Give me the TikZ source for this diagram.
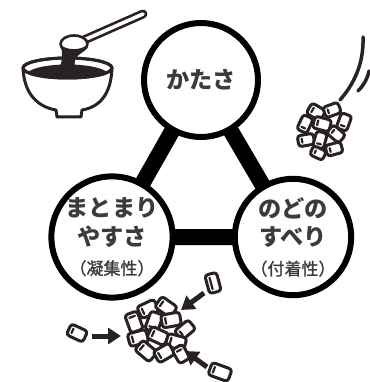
\documentclass[tikz,border=0pt]{standalone}
\usepackage{fontspec}
\newfontfamily\jp{Noto Sans CJK JP}
\newfontfamily\jpmid[FakeBold=1.2]{Noto Sans CJK JP}
\usetikzlibrary{arrows.meta,backgrounds}
\definecolor{ring}{HTML}{000000}
\definecolor{txt}{HTML}{3E3A39}
\definecolor{art}{HTML}{2A2222}
\tikzset{
  bubble/.style={circle, draw=ring, line width=6pt, fill=white, minimum size=114pt,
                 inner sep=0pt, align=center, text=txt,
                 font=\jp\bfseries\fontsize{23.2}{28.5}\selectfont},
  bar/.style={draw=ring, line width=16pt},
  artline/.style={draw=art, line width=3pt, line cap=round, line join=round},
  pc/.style={draw=art, fill=white, line width=3pt, rounded corners=3pt, line join=round},
  pcin/.style={draw=art, line width=2.2pt, line cap=round},
  push/.style={draw=art, line width=5pt, -{Triangle[length=13pt,width=16pt]}},
}
\newcommand\paren{\jpmid\mdseries\fontsize{17}{20}\selectfont}
% one small cube-like bit: x, y, angle, width, height
\newcommand\bit[5]{%
  \begin{scope}[shift={(#1,#2)},rotate=#3]
    \draw[pc] (-#4/2,-#5/2) rectangle (#4/2,#5/2);
    \draw[pcin] (-#4/2+4,-#5/2+3.5) -- (-#4/2+4,#5/2-3.5);
  \end{scope}}
\begin{document}
\begin{tikzpicture}[x=1pt,y=-1pt]
\useasboundingbox (0,0) rectangle (369,382);

% the three properties
\node[bubble] (hard) at (201,80) {かたさ};
\node[bubble] (coh) at (112,237) {まとまり\\やすさ\\[1pt]{\paren （凝集性）}};
\node[bubble] (adh) at (293,237) {のどの\\すべり\\[1pt]{\paren （付着性）}};
\begin{scope}[on background layer]
  \draw[bar] (hard.center) -- (coh.center) -- (adh.center) -- cycle;
\end{scope}

% bowl with a spoon of thick liquid
\draw[artline, fill=white] (23,68) .. controls (24,94) and (38,107) .. (56,110)
  -- (57,117) -- (81,117) -- (82,110) .. controls (100,107) and (111,94) .. (112,68);
\draw[artline, fill=white] (67.5,68) ellipse [x radius=44.5, y radius=10];
\begin{scope}
  \clip (67.5,68) ellipse [x radius=44.5, y radius=10];
  \fill[art] (67.5,75) ellipse [x radius=41, y radius=10.5];
\end{scope}
\draw[artline] (67.5,68) ellipse [x radius=44.5, y radius=10];
\draw[art, line width=9pt, line cap=round] (84,40) -- (143,14);
\draw[white, line width=3.6pt, line cap=round] (84,40) -- (143,14);
\draw[artline, fill=white, line width=2.6pt] (74,44) ellipse [x radius=13.5, y radius=8.5];
\fill[art] (61,45) .. controls (66,50) and (80,51) .. (87,45)
  .. controls (85,53) and (78,54) .. (76,58) .. controls (74,62) and (74,66) .. (77,70)
  -- (58,70) .. controls (62,64) and (63,57) .. (61,45) -- cycle;

% a crumbling lump flying off
\draw[art, line width=3.5pt, line cap=round] (363,37) .. controls (364,65) and (353,85) .. (340,100);
\draw[art, line width=3.5pt, line cap=round] (369,71) .. controls (367,80) and (363,86) .. (358,91);
\bit{316}{112}{-30}{16}{12}
\bit{332}{110}{20}{16}{11}
\bit{305}{124}{65}{16}{11}
\bit{344}{122}{70}{16}{11}
\bit{322}{124}{-15}{17}{12}
\bit{336}{134}{-40}{16}{11}
\bit{306}{140}{10}{16}{11}
\bit{320}{140}{75}{16}{11}
\bit{334}{149}{15}{16}{11}
\bit{318}{153}{-25}{14}{10}

% bits gathering into a lump
\bit{148}{309}{25}{19}{13}
\bit{166}{307}{-35}{19}{13}
\bit{134}{322}{-70}{19}{13}
\bit{154}{322}{70}{19}{13}
\bit{171}{320}{10}{19}{13}
\bit{185}{330}{40}{18}{12}
\bit{138}{338}{15}{19}{13}
\bit{158}{336}{-25}{19}{13}
\bit{176}{342}{-15}{19}{13}
\bit{146}{351}{-40}{19}{13}
\bit{164}{353}{30}{18}{13}
\bit{181}{354}{-60}{16}{12}

\bit{77}{333}{-25}{18}{12}
\bit{213}{283}{15}{12}{19}
\bit{220}{372}{-20}{21}{13}
\coordinate (p1) at (92,336);
\coordinate (p2) at (204,293);
\coordinate (p3) at (207,367);
\coordinate (q1) at (121,336);
\coordinate (q2) at (181,310);
\coordinate (q3) at (185,351);
\draw[push] (p1) -- (q1);
\draw[push] (p2) -- (q2);
\draw[push] (p3) -- (q3);
\end{tikzpicture}
\end{document}
